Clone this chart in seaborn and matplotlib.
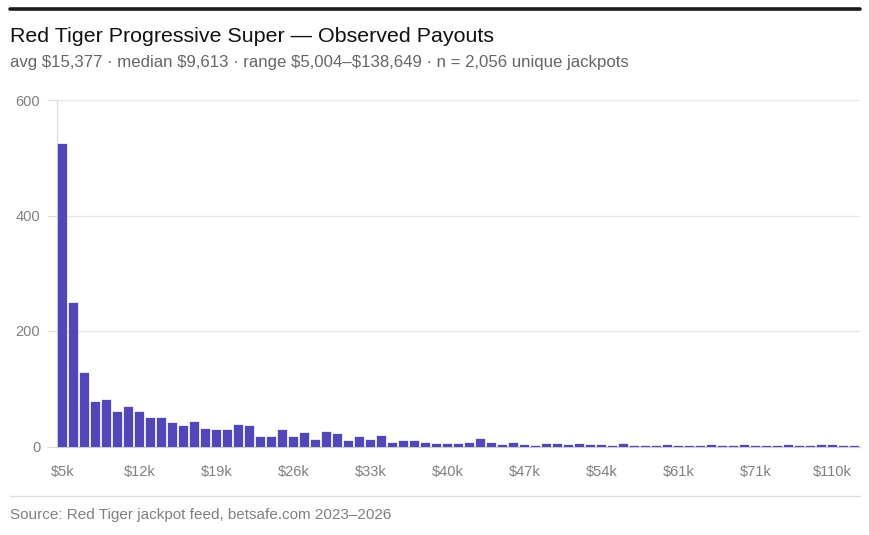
import matplotlib
matplotlib.use("Agg")
import matplotlib.pyplot as plt
import seaborn as sns
import pandas as pd

# payout bins ($1k floor), only non-empty bins are shown
bins_k = list(range(5, 62)) + [62, 63, 64, 65, 67, 69, 71, 73, 75, 78, 84, 91, 98, 110, 121, 138]
counts = [523, 248, 127, 77, 81, 59, 68, 59, 50, 50,
          41, 35, 43, 31, 28, 28, 37, 36, 16, 16,
          29, 16, 24, 12, 25, 21, 10, 16, 12, 19,
          6, 9, 10, 6, 5, 5, 5, 6, 13, 6,
          3, 6, 2, 1, 4, 5, 2, 4, 3, 2,
          1, 5, 1, 1, 1, 2, 1, 1, 1, 3,
          1, 1, 2, 1, 1, 1, 2, 1, 1, 2,
          2, 1, 1]
labels = ["$%dk" % b for b in bins_k]

title = "Red Tiger Progressive Super \u2014 Observed Payouts"
subtitle = "avg $15,377 \u00b7 median $9,613 \u00b7 range $5,004\u2013$138,649 \u00b7 n = 2,056 unique jackpots"
source = "Source: Red Tiger jackpot feed, betsafe.com 2023\u20132026"

df = pd.DataFrame({"bin": labels, "count": counts})

sns.set_style("white")
plt.rcParams['font.family'] = ['Liberation Sans', 'DejaVu Sans']
plt.rcParams['text.parse_math'] = False

fig = plt.figure(figsize=(8.7, 5.35), dpi=100)
ax = fig.add_axes([57 / 870, 1 - 446.5 / 535, 803 / 870, 346.5 / 535])

sns.barplot(data=df, x="bin", y="count", color="#5147B9", width=0.82,
            saturation=1, ax=ax, zorder=3, edgecolor="#5147B9", linewidth=0.2)

ax.set_ylim(0, 600)
ax.set_xlim(-0.5, len(labels) - 0.5)
ax.set_yticks([0, 200, 400, 600])
ax.set_xticks(range(0, len(labels), 7))
ax.set_xticklabels(labels[::7])
ax.set_xlabel("")
ax.set_ylabel("")
ax.grid(axis="y", color="#e6e6e6", linewidth=0.9, zorder=0)
ax.tick_params(axis="y", colors="#dddddd", labelcolor="#808080", labelsize=10.5,
               length=7, width=0.8, pad=5, left=True)
ax.tick_params(axis="x", labelcolor="#808080", labelsize=10.5, length=0, pad=13)
for s in ["top", "right"]:
    ax.spines[s].set_visible(False)
ax.spines["left"].set_color("#dddddd")
ax.spines["left"].set_linewidth(0.9)
ax.spines["bottom"].set_color("#cccccc")
ax.spines["bottom"].set_linewidth(0.9)

# header / footer decorations
fig.add_artist(plt.Line2D([10 / 870, 860 / 870], [1 - 8.5 / 535] * 2, color="#1a1a1a", linewidth=2.6))
fig.add_artist(plt.Line2D([10 / 870, 860 / 870], [1 - 496 / 535] * 2, color="#dddddd", linewidth=1))
fig.text(10 / 870, 1 - 36 / 535, title, fontsize=15.4, color="#111111", va="center", ha="left")
fig.text(10 / 870, 1 - 63 / 535, subtitle, fontsize=12.1, color="#666666", va="center", ha="left")
fig.text(10 / 870, 1 - 515 / 535, source, fontsize=11, color="#808080", va="center", ha="left")

fig.savefig("out.png", dpi=100)
